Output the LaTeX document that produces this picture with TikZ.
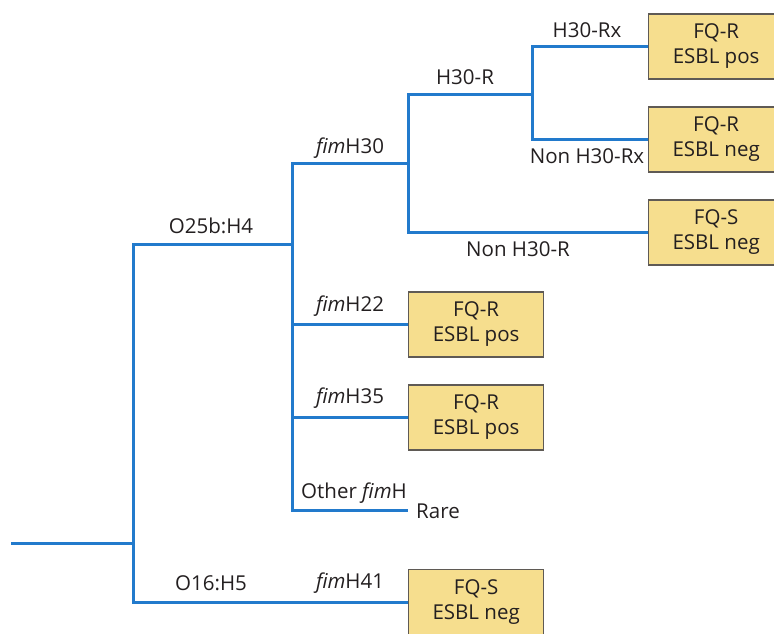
\documentclass[tikz,border=0pt]{standalone}
\usepackage{fontspec}
\setmainfont{Open Sans}
\definecolor{branchblue}{RGB}{34,122,204}
\definecolor{boxfill}{RGB}{246,222,142}
\definecolor{boxline}{RGB}{95,90,85}
\definecolor{txt}{RGB}{35,31,32}
\tikzset{
  branch/.style={draw=branchblue, line width=3pt},
  res/.style={draw=boxline, fill=boxfill, line width=1.3pt, minimum width=135pt, minimum height=65pt, anchor=west, align=center, inner sep=0pt, font=\fontsize{20.5}{25}\selectfont, text=txt},
  lab/.style={font=\fontsize{20.5}{24}\selectfont, text=txt, inner sep=0pt}
}
\begin{document}
\begin{tikzpicture}[x=1pt,y=-1pt]
\useasboundingbox (0,0) rectangle (774,633);
\clip (0,0) rectangle (774,633);
% result boxes
\node[res] (b1) at (648,46.5) {FQ-R\\ESBL pos};
\node[res] (b2) at (648,139.5) {FQ-R\\ESBL neg};
\node[res] (b3) at (648,232.5) {FQ-S\\ESBL neg};
\node[res] (b4) at (408,324.5) {FQ-R\\ESBL pos};
\node[res] (b5) at (408,417.5) {FQ-R\\ESBL pos};
\node[res] (b6) at (408,602) {FQ-S\\ESBL neg};
% junctions
\coordinate (r0) at (11,543);
\coordinate (j1) at (133,543);
\coordinate (j2) at (292,244);
\coordinate (j3) at (408,163);
\coordinate (j4) at (532,94);
\coordinate (o1) at (408,510);
% branches
\draw[branch] (r0) -- (j1);
\draw[branch] (j2) -| (j1) |- (b6.west);
\draw[branch] (j3) -| (j2) |- (o1);
\draw[branch] (j2 |- b4.west) -- (b4.west);
\draw[branch] (j2 |- b5.west) -- (b5.west);
\draw[branch] (j4) -| (j3) |- (b3.west);
\draw[branch] (b1.west) -| (j4) |- (b2.west);
% labels
\node[lab] (l1) at (211,226) {O25b:H4};
\node[lab] (l2) at (211,583) {O16:H5};
\node[lab] (l3) at (350,583) {\textit{fim}H41};
\node[lab] (l4) at (350,148) {\textit{fim}H30};
\node[lab] (l5) at (350,306) {\textit{fim}H22};
\node[lab] (l6) at (350,398) {\textit{fim}H35};
\node[lab] (l7) at (354,493) {Other \textit{fim}H};
\node[lab] (l8) at (438,511) {Rare};
\node[lab] (l9) at (465,77) {H30-R};
\node[lab] (l10) at (587,30) {H30-Rx};
\node[lab] (l11) at (587,156) {Non H30-Rx};
\node[lab] (l12) at (518,249) {Non H30-R};
\end{tikzpicture}
\end{document}
